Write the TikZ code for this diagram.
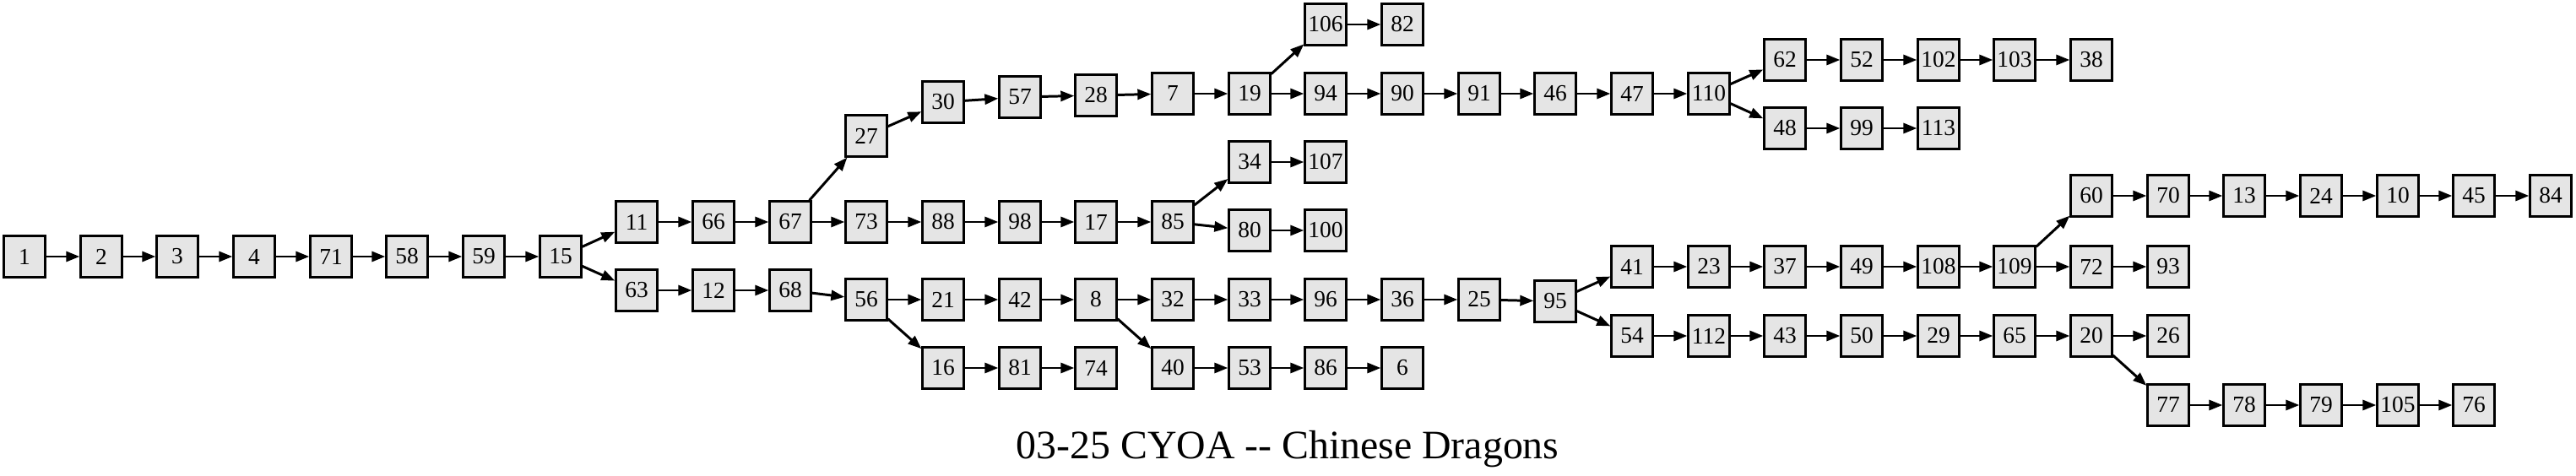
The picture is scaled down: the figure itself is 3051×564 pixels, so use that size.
\documentclass[tikz,border=0pt]{standalone}
\usepackage{fontspec}
\setmainfont{Liberation Serif}
\usetikzlibrary{arrows.meta}

\begin{document}
\begin{tikzpicture}[x=0.01cm, y=-0.01cm,
	page/.style={
	rectangle, minimum width=0.49cm, minimum height=0.49cm, inner sep=0pt,
	line width=0.65pt, draw=black, fill=black!10,
	font=\fontsize{7.8}{8}\selectfont},
	>={Triangle[length=0.16cm, width=0.12cm]}, line width=0.85pt]
	\useasboundingbox (0,0) rectangle (3051,564);
	% main line
	\node[page] (1) at (29,304) {1};
	\node[page] (2) at (120,304) {2};
	\node[page] (3) at (210,304) {3};
	\node[page] (4) at (301,304) {4};
	\node[page] (71) at (392,304) {71};
	\node[page] (58) at (482,304) {58};
	\node[page] (59) at (573,304) {59};
	\node[page] (15) at (664,304) {15};
	\node[page] (11) at (754,263) {11};
	\node[page] (63) at (754,344) {63};
	\node[page] (66) at (845,263) {66};
	\node[page] (12) at (845,344) {12};
	\node[page] (67) at (936,263) {67};
	\node[page] (68) at (936,344) {68};
	\node[page] (27) at (1026,161) {27};
	\node[page] (73) at (1026,263) {73};
	\node[page] (56) at (1026,355) {56};
	\node[page] (30) at (1117,121) {30};
	\node[page] (88) at (1117,263) {88};
	\node[page] (21) at (1117,355) {21};
	\node[page] (16) at (1117,436) {16};
	\node[page] (57) at (1208,115) {57};
	\node[page] (98) at (1208,263) {98};
	\node[page] (42) at (1208,355) {42};
	\node[page] (81) at (1208,436) {81};
	\node[page] (28) at (1298,113) {28};
	\node[page] (17) at (1298,263) {17};
	\node[page] (8) at (1298,355) {8};
	\node[page] (74) at (1298,436) {74};
	\node[page] (7) at (1389,111) {7};
	\node[page] (85) at (1389,263) {85};
	\node[page] (32) at (1389,355) {32};
	\node[page] (40) at (1389,436) {40};
	\node[page] (19) at (1480,111) {19};
	\node[page] (34) at (1480,192) {34};
	\node[page] (80) at (1480,273) {80};
	\node[page] (33) at (1480,355) {33};
	\node[page] (53) at (1480,436) {53};
	\node[page] (106) at (1570,29) {106};
	\node[page] (94) at (1570,111) {94};
	\node[page] (107) at (1570,192) {107};
	\node[page] (100) at (1570,273) {100};
	\node[page] (96) at (1570,355) {96};
	\node[page] (86) at (1570,436) {86};
	\node[page] (82) at (1661,29) {82};
	\node[page] (90) at (1661,111) {90};
	\node[page] (36) at (1661,355) {36};
	\node[page] (6) at (1661,436) {6};
	\node[page] (91) at (1752,111) {91};
	\node[page] (25) at (1752,355) {25};
	\node[page] (46) at (1842,111) {46};
	\node[page] (95) at (1842,357) {95};
	\node[page] (47) at (1933,111) {47};
	\node[page] (41) at (1933,316) {41};
	\node[page] (54) at (1933,398) {54};
	\node[page] (110) at (2024,111) {110};
	\node[page] (23) at (2024,316) {23};
	\node[page] (112) at (2024,398) {112};
	\node[page] (62) at (2114,71) {62};
	\node[page] (48) at (2114,152) {48};
	\node[page] (37) at (2114,316) {37};
	\node[page] (43) at (2114,398) {43};
	\node[page] (52) at (2205,71) {52};
	\node[page] (99) at (2205,152) {99};
	\node[page] (49) at (2205,316) {49};
	\node[page] (50) at (2205,398) {50};
	\node[page] (102) at (2296,71) {102};
	\node[page] (113) at (2296,152) {113};
	\node[page] (108) at (2296,316) {108};
	\node[page] (29) at (2296,398) {29};
	\node[page] (103) at (2386,71) {103};
	\node[page] (109) at (2386,316) {109};
	\node[page] (65) at (2386,398) {65};
	\node[page] (38) at (2477,71) {38};
	\node[page] (60) at (2477,232) {60};
	\node[page] (72) at (2477,316) {72};
	\node[page] (20) at (2477,398) {20};
	\node[page] (70) at (2568,232) {70};
	\node[page] (93) at (2568,316) {93};
	\node[page] (26) at (2568,398) {26};
	\node[page] (77) at (2568,480) {77};
	\node[page] (13) at (2658,232) {13};
	\node[page] (78) at (2658,480) {78};
	\node[page] (24) at (2749,232) {24};
	\node[page] (79) at (2749,480) {79};
	\node[page] (10) at (2840,232) {10};
	\node[page] (105) at (2840,480) {105};
	\node[page] (45) at (2930,232) {45};
	\node[page] (76) at (2930,480) {76};
	\node[page] (84) at (3021,232) {84};
	% title
	\node[anchor=base, font=\fontsize{13.6}{16}\selectfont] (title) at (1525,543) {03-25 CYOA -{}- Chinese Dragons};
	\draw[->]
				(1) edge (2) (2) edge (3) (3) edge (4) (4) edge (71)
				(71) edge (58) (58) edge (59) (59) edge (15)
				(15) edge (11) (15) edge (63)
				(11) edge (66) (66) edge (67)
				(67) edge (27) (67) edge (73)
				(27) edge (30) (30) edge (57) (57) edge (28) (28) edge (7) (7) edge (19)
				(19) edge (106) (19) edge (94)
				(106) edge (82)
				(94) edge (90) (90) edge (91) (91) edge (46) (46) edge (47) (47) edge (110)
				(110) edge (62) (110) edge (48)
				(62) edge (52) (52) edge (102) (102) edge (103) (103) edge (38)
				(48) edge (99) (99) edge (113)
				(73) edge (88) (88) edge (98) (98) edge (17) (17) edge (85)
				(85) edge (34) (85) edge (80)
				(34) edge (107) (80) edge (100)
				(63) edge (12) (12) edge (68) (68) edge (56)
				(56) edge (21) (56) edge (16)
				(21) edge (42) (42) edge (8)
				(8) edge (32) (8) edge (40)
				(32) edge (33) (33) edge (96) (96) edge (36) (36) edge (25) (25) edge (95)
				(95) edge (41) (95) edge (54)
				(41) edge (23) (23) edge (37) (37) edge (49) (49) edge (108) (108) edge (109)
				(109) edge (60) (109) edge (72)
				(60) edge (70) (70) edge (13) (13) edge (24) (24) edge (10) (10) edge (45) (45) edge (84)
				(72) edge (93)
				(54) edge (112) (112) edge (43) (43) edge (50) (50) edge (29) (29) edge (65) (65) edge (20)
				(20) edge (26) (20) edge (77)
				(77) edge (78) (78) edge (79) (79) edge (105) (105) edge (76)
				(16) edge (81) (81) edge (74)
				(40) edge (53) (53) edge (86) (86) edge (6);
\end{tikzpicture}
\end{document}
